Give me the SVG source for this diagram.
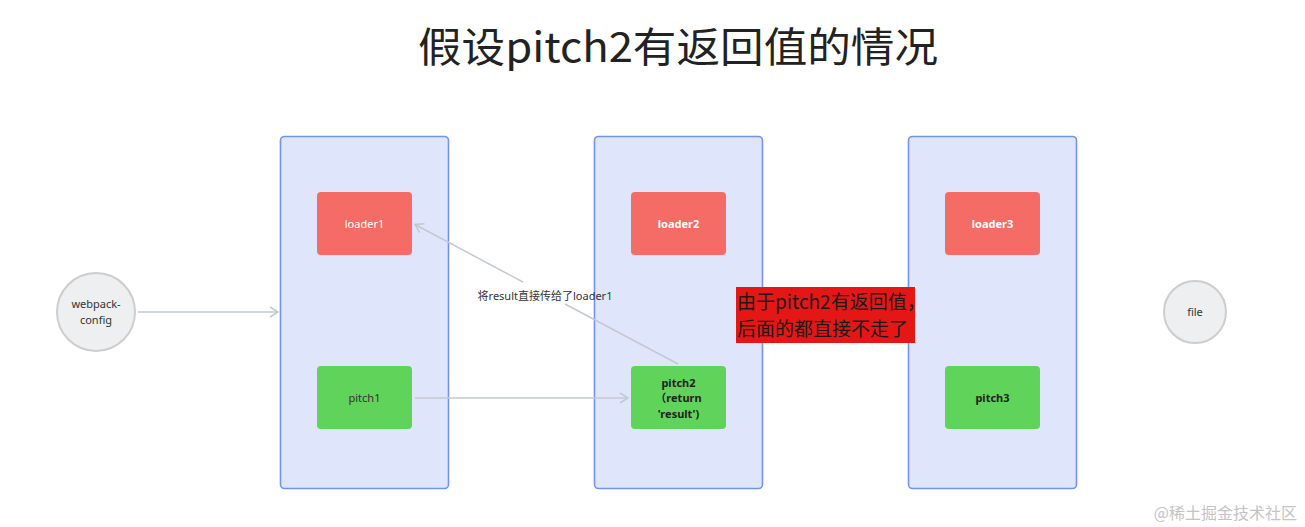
<svg xmlns="http://www.w3.org/2000/svg" width="1305" height="527" viewBox="0 0 1305 527">
<style>
.cont{fill:#dfe6fc;stroke:#6f95e6;stroke-width:1.6}
.loader{fill:#f56b66}
.pitch{fill:#5fd35a}
.circ{fill:#eeeff1;stroke:#cdcdcd;stroke-width:2}
.t{font-family:"Noto Sans","Noto Sans CJK SC",sans-serif;font-size:11px;text-anchor:middle}
.lw{fill:#fff}
.lb{fill:#fff;font-weight:bold}
.pn{fill:#333}
.pb{fill:#222;font-weight:bold}
.conn{stroke:#c3c8d2;stroke-width:1.5;fill:none}
</style>
<defs>
<marker id="arr" markerWidth="12" markerHeight="12" refX="10" refY="6" orient="auto" markerUnits="userSpaceOnUse">
<path d="M2,1 L10,6 L2,11" fill="none" stroke="#c3c8d2" stroke-width="1.5"/>
</marker>
</defs>
<rect width="1305" height="527" fill="#fff"/>
<text x="418" y="62" font-family="'Noto Sans CJK SC',sans-serif" font-size="41" fill="#222" textLength="520" lengthAdjust="spacingAndGlyphs">假设pitch2有返回值的情况</text>

<g id="container1"><rect class="cont" x="280.5" y="136.5" width="168" height="352" rx="4"/></g>
<g id="container2"><rect class="cont" x="594.5" y="136.5" width="168" height="352" rx="4"/></g>
<g id="container3"><rect class="cont" x="908.5" y="136.5" width="168" height="352" rx="4"/></g>

<g id="connectors">
<line class="conn" x1="138" y1="312" x2="278" y2="312" marker-end="url(#arr)"/>
<line class="conn" x1="415" y1="398" x2="628" y2="398" marker-end="url(#arr)"/>
<line class="conn" x1="678" y1="364" x2="565" y2="304"/>
<line class="conn" x1="523" y1="282" x2="415" y2="224.5" marker-end="url(#arr)"/>
<text class="t pn" x="545" y="300">将result直接传给了loader1</text>
</g>

<g id="webpack-config"><circle class="circ" cx="96" cy="312" r="39"/><text class="t pn" x="96" y="308">webpack-</text><text class="t pn" x="96" y="324">config</text></g>
<g id="file"><circle class="circ" cx="1195" cy="312" r="31"/><text class="t pn" x="1195" y="316">file</text></g>

<g id="loader1"><rect class="loader" x="317" y="192" width="95" height="63" rx="4"/><text class="t lw" x="364.5" y="228">loader1</text></g>
<g id="loader2"><rect class="loader" x="631" y="192" width="95" height="63" rx="4"/><text class="t lb" x="678.5" y="228">loader2</text></g>
<g id="loader3"><rect class="loader" x="945" y="192" width="95" height="63" rx="4"/><text class="t lb" x="992.5" y="228">loader3</text></g>
<g id="pitch1"><rect class="pitch" x="317" y="366" width="95" height="63" rx="4"/><text class="t pn" x="364.5" y="402">pitch1</text></g>
<g id="pitch2"><rect class="pitch" x="631" y="366" width="95" height="63" rx="4"/><text class="t pb" x="678.5" y="387">pitch2</text><text class="t pb" x="678.5" y="402">（return</text><text class="t pb" x="678.5" y="418">'result')</text></g>
<g id="pitch3"><rect class="pitch" x="945" y="366" width="95" height="63" rx="4"/><text class="t pb" x="992.5" y="402">pitch3</text></g>

<g id="note">
<rect x="736" y="287" width="179" height="56" fill="#e51616"/>
<text font-family="'Noto Sans CJK SC',sans-serif" font-size="19" fill="#1a1a1a"><tspan x="737" y="309">由于pitch2有返回值，</tspan><tspan x="737" y="336">后面的都直接不走了</tspan></text>
</g>

<text x="1297" y="519" font-family="'Noto Sans CJK SC',sans-serif" font-size="16" fill="#c4c4c4" text-anchor="end">@稀土掘金技术社区</text>
</svg>
